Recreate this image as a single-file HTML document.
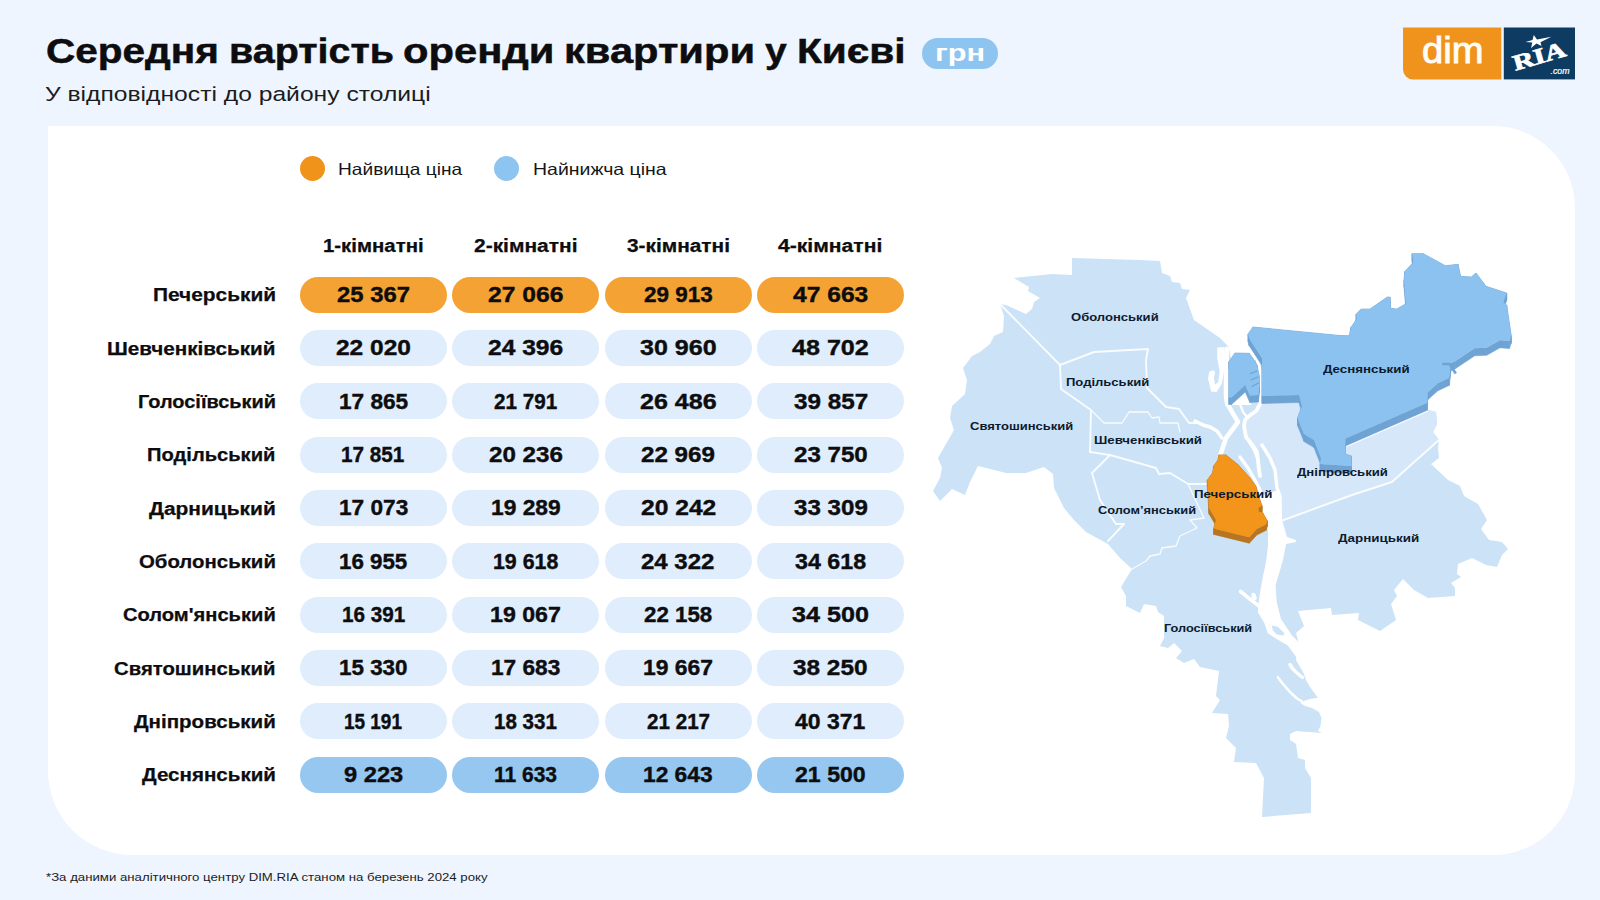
<!DOCTYPE html>
<html lang="uk"><head><meta charset="utf-8"><title>Середня вартість оренди квартири у Києві</title>
<style>
html,body{margin:0;padding:0}
body{width:1600px;height:900px;overflow:hidden;background:#eef5fe;font-family:"Liberation Sans",sans-serif;position:relative}
.card{position:absolute;left:48px;top:126.4px;width:1526.8px;height:728.8px;background:#fff;border-radius:0 82px 82px 84px}
.t{position:absolute;white-space:nowrap;line-height:1;transform-origin:0 0}
.p{position:absolute;width:147px;height:36px;border-radius:18px;background:#dfedfc}
.p.hi{background:#f4a233}
.p.lo{background:#95c7f0}
.badge{position:absolute;left:922px;top:37.5px;width:76px;height:31px;border-radius:15.5px;background:#8ec4f0}
.dot{position:absolute;width:25px;height:25px;border-radius:50%;top:155.5px}
svg{position:absolute;left:0;top:0}
</style></head><body>
<div class="card"></div>
<div class="badge"></div>
<div class="dot" style="left:300px;background:#f0931b"></div>
<div class="dot" style="left:494.3px;background:#8ec4f0"></div>
<div class="p hi" style="left:300.0px;top:276.7px"></div>
<div class="p hi" style="left:452.3px;top:276.7px"></div>
<div class="p hi" style="left:604.6px;top:276.7px"></div>
<div class="p hi" style="left:756.9px;top:276.7px"></div>
<div class="p" style="left:300.0px;top:330.0px"></div>
<div class="p" style="left:452.3px;top:330.0px"></div>
<div class="p" style="left:604.6px;top:330.0px"></div>
<div class="p" style="left:756.9px;top:330.0px"></div>
<div class="p" style="left:300.0px;top:383.4px"></div>
<div class="p" style="left:452.3px;top:383.4px"></div>
<div class="p" style="left:604.6px;top:383.4px"></div>
<div class="p" style="left:756.9px;top:383.4px"></div>
<div class="p" style="left:300.0px;top:436.7px"></div>
<div class="p" style="left:452.3px;top:436.7px"></div>
<div class="p" style="left:604.6px;top:436.7px"></div>
<div class="p" style="left:756.9px;top:436.7px"></div>
<div class="p" style="left:300.0px;top:490.0px"></div>
<div class="p" style="left:452.3px;top:490.0px"></div>
<div class="p" style="left:604.6px;top:490.0px"></div>
<div class="p" style="left:756.9px;top:490.0px"></div>
<div class="p" style="left:300.0px;top:543.3px"></div>
<div class="p" style="left:452.3px;top:543.3px"></div>
<div class="p" style="left:604.6px;top:543.3px"></div>
<div class="p" style="left:756.9px;top:543.3px"></div>
<div class="p" style="left:300.0px;top:596.7px"></div>
<div class="p" style="left:452.3px;top:596.7px"></div>
<div class="p" style="left:604.6px;top:596.7px"></div>
<div class="p" style="left:756.9px;top:596.7px"></div>
<div class="p" style="left:300.0px;top:650.0px"></div>
<div class="p" style="left:452.3px;top:650.0px"></div>
<div class="p" style="left:604.6px;top:650.0px"></div>
<div class="p" style="left:756.9px;top:650.0px"></div>
<div class="p" style="left:300.0px;top:703.3px"></div>
<div class="p" style="left:452.3px;top:703.3px"></div>
<div class="p" style="left:604.6px;top:703.3px"></div>
<div class="p" style="left:756.9px;top:703.3px"></div>
<div class="p lo" style="left:300.0px;top:756.7px"></div>
<div class="p lo" style="left:452.3px;top:756.7px"></div>
<div class="p lo" style="left:604.6px;top:756.7px"></div>
<div class="p lo" style="left:756.9px;top:756.7px"></div>
<svg width="1600" height="900" viewBox="0 0 1600 900">
<polygon points="1014,278 1052,274 1072,275 1072,258 1140,260 1160,261 1162,273 1170,276 1172,282 1180,283 1182,289 1190,290 1186,298 1194,320 1220,338 1229,347 1231,360 1262,360 1300,380 1400,400 1428,404 1428,410 1436,412 1437,424 1433,432 1439,440 1438,448 1439,458 1431,464 1448,480 1460,486 1464,496 1478,504 1487,520 1481,529 1489,540 1502,542 1508,549 1502,555 1497,567 1486,565 1472,558 1458,564 1457,574 1461,577 1451,583 1455,588 1455,596 1428,598 1414,590 1403,579 1394,590 1397,596 1391,604 1396,620 1380,631 1358,620 1359,613 1332,615 1331,608 1298,611 1304,626 1296,633 1298,640 1296,660 1304,674 1306,680 1310,687 1317.8,697.8 1311,698.8 1305,700.5 1300.5,703.2 1305,706 1312,708 1319,712 1321.5,718 1320.5,726 1318,731 1322,733 1296,731 1290,734 1290,740 1296,744 1298,758 1305,760 1305,768 1311,778 1311,813 1262,817 1264,778 1256,763 1234,762 1236,748 1226,738 1229,726 1228,714 1212,713 1220,700 1216,696 1219,671 1200,667 1194,659 1184,663 1176,658 1182,651 1174,643 1168,648 1160,646 1164,638 1164,616 1158,612 1156,606 1144,604 1140,613 1126,606 1126,596 1121,587 1132,569 1120,558 1108,544 1086,532 1074,520 1064,508 1054,488 1053,474 1044,467 1026,473 1006,473 978,466 970,482 965,495 952,489 940,501 933,491 940,478 942,468 938,458 954,430 950,418 952,406 965,394 967,380 963,368 972,356 980,352 990,344 994,336 1003,332 1004,316 1000,304 1006,305 1026,314 1032,309 1034,302 1040,298 1028,291 1029,287" fill="#cce2f7"/>
<polygon points="1262,396 1300,396 1428,404 1428,410 1436,412 1437,424 1433,432 1439,440 1412,464 1392,482 1352,495 1281,521 1281,500 1280,496 1277,488 1275,470 1270,458 1262,445 1257,452 1253,446 1246,437 1244,423 1246,416 1255,412 1259,403" fill="#d5e7f9"/>
<polygon points="1258,497 1258,520 1265,527 1268,530 1268,546 1266,562 1262.2,580 1259.4,596.7 1257.8,612.2 1264.4,623.3 1267.8,633.3 1276.7,638.9 1287.8,645.6 1296.7,657.8 1301,666 1303,650 1296.7,640 1292,635.6 1281,618.9 1276.7,602.2 1275.6,585 1283,560 1286,544 1296,542 1296,540 1287,537 1282,520 1281,500 1278,490" fill="#fff"/>
<polygon points="1271.7,625.6 1277.8,626.7 1284.4,633.3 1283.3,635.6 1276.7,634.4 1272.8,630" fill="#cce2f7"/>
<g fill="none" stroke="#fff" stroke-linejoin="round" stroke-linecap="round">
<polyline points="1000,304 1060,365" stroke-width="1.9" stroke-opacity=".88"/>
<polyline points="1060,365 1094,352 1148,349 1146,360 1147,388 1166,407 1179,409 1189,423 1197,423" stroke-width="1.9" stroke-opacity=".88"/>
<polyline points="1060,365 1061,389 1091,410 1090,452" stroke-width="1.9" stroke-opacity=".88"/>
<polyline points="1092,411 1104,423 1122,423 1129,412 1148,412 1152,418 1159,417 1160,423 1178,423 1180,432" stroke-width="1.3" stroke-opacity=".88"/>
<polyline points="1090,452 1110,455 1156,468 1159,474 1170,473 1188,484 1208,484" stroke-width="1.9" stroke-opacity=".88"/>
<polyline points="1110,455 1092,473 1100,500 1116,524 1124,524 1108,541" stroke-width="1.9" stroke-opacity=".88"/>
<polyline points="1188,484 1204,518 1190,520 1197,528 1180,536 1176,546 1162,548 1160,554 1150,556 1146,561 1132,569" stroke-width="1.3" stroke-opacity=".88"/>
<polyline points="1439,440 1412,464 1392,482 1352,495 1281,521" stroke-width="1.9" stroke-opacity=".88"/>
<polyline points="1227,349 1226.3,360 1226.2,396 1227.5,404" stroke-width="5"/>
<polyline points="1227.5,404 1232,412 1238,422 1232,430 1226,438 1222,450 1220,456" stroke-width="4.6"/>
<polyline points="1195,421 1203,425 1210,427 1217,431 1222,438" stroke-width="3.4"/>
<polyline points="1257.5,360 1260.5,375 1261,388 1260.5,403 1256.4,410.7 1249,416 1245,420 1244,426 1246,437 1253,446 1257,452 1259,470 1260,476" stroke-width="3.8"/>
<polyline points="1240,457 1248,468 1256,482 1260,490 1264,504" stroke-width="3.4"/>
<polyline points="1248,440 1254,450 1258,460 1260,475" stroke-width="2.6"/>
<polyline points="1262,445 1270,458 1275,470 1277,488 1280,496 1280,520" stroke-width="3.4"/>
<polyline points="1240.5,591.5 1250,599 1259,606" stroke-width="3.6"/>
<polyline points="1253.5,595 1254.5,598" stroke-width="4.5"/>
<polyline points="1290,664.5 1292.5,668.5 1297,673 1302.5,677.5" stroke-width="3.4"/>
<polyline points="1277.8,677.2 1283,684 1290,692 1297,698.5 1302,701.5" stroke-width="2.6"/>
</g>
<polygon points="1217.3,347.6 1224.5,347.1 1224.6,362.7 1223.6,373.3 1221.8,384 1216.4,392 1211.1,391.6 1208,378.7 1209.3,371.6 1213.8,370.2 1215.1,372.4 1213.8,377.8 1215.1,384.4 1218.2,382.2 1219.6,371.6 1217.3,358.2" fill="#fff"/>
<polygon points="1245.3,386 1230.5,405 1251.5,405" fill="#fff"/>
<polyline points="1240,404 1243,412 1247,417" fill="none" stroke="#fff" stroke-width="2.4"/>
<polygon points="1228.9,361.8 1235,353 1235,360 1228.9,368.8" fill="#6ea3d3" stroke="#6ea3d3" stroke-width=".6"/>
<polygon points="1235,353 1249.3,353.3 1249.3,360.3 1235,360" fill="#6ea3d3" stroke="#6ea3d3" stroke-width=".6"/>
<polygon points="1249.3,353.3 1254.7,361 1254.7,368 1249.3,360.3" fill="#6ea3d3" stroke="#6ea3d3" stroke-width=".6"/>
<polygon points="1254.7,361 1257,365 1257,372 1254.7,368" fill="#6ea3d3" stroke="#6ea3d3" stroke-width=".6"/>
<polygon points="1257,365 1259,375 1259,382 1257,372" fill="#6ea3d3" stroke="#6ea3d3" stroke-width=".6"/>
<polygon points="1259,375 1259.5,386 1259.5,393 1259,382" fill="#6ea3d3" stroke="#6ea3d3" stroke-width=".6"/>
<polygon points="1259.5,386 1258.3,395 1258.3,402 1259.5,393" fill="#6ea3d3" stroke="#6ea3d3" stroke-width=".6"/>
<polygon points="1258.3,395 1249.8,395.5 1249.8,402.5 1258.3,402" fill="#6ea3d3" stroke="#6ea3d3" stroke-width=".6"/>
<polygon points="1249.8,395.5 1245.3,385 1245.3,392 1249.8,402.5" fill="#6ea3d3" stroke="#6ea3d3" stroke-width=".6"/>
<polygon points="1245.3,385 1231.5,397.5 1231.5,404.5 1245.3,392" fill="#6ea3d3" stroke="#6ea3d3" stroke-width=".6"/>
<polygon points="1231.5,397.5 1228.9,397.5 1228.9,404.5 1231.5,404.5" fill="#6ea3d3" stroke="#6ea3d3" stroke-width=".6"/>
<polygon points="1228.9,397.5 1228.9,361.8 1228.9,368.8 1228.9,404.5" fill="#6ea3d3" stroke="#6ea3d3" stroke-width=".6"/>
<polygon points="1228.9,361.8 1235,353 1249.3,353.3 1254.7,361 1257,365 1259,375 1259.5,386 1258.3,395 1249.8,395.5 1245.3,385 1231.5,397.5 1228.9,397.5" fill="#8bc2ef"/>
<polygon points="1248,334 1253,327 1253,334.5 1248,341.5" fill="#6ea3d3" stroke="#6ea3d3" stroke-width=".6"/>
<polygon points="1253,327 1340,335.5 1340,343 1253,334.5" fill="#6ea3d3" stroke="#6ea3d3" stroke-width=".6"/>
<polygon points="1340,335.5 1349.3,335.7 1349.3,343.2 1340,343" fill="#6ea3d3" stroke="#6ea3d3" stroke-width=".6"/>
<polygon points="1349.3,335.7 1350.7,327.7 1350.7,335.2 1349.3,343.2" fill="#6ea3d3" stroke="#6ea3d3" stroke-width=".6"/>
<polygon points="1350.7,327.7 1356.7,319 1356.7,326.5 1350.7,335.2" fill="#6ea3d3" stroke="#6ea3d3" stroke-width=".6"/>
<polygon points="1356.7,319 1356,314.3 1356,321.8 1356.7,326.5" fill="#6ea3d3" stroke="#6ea3d3" stroke-width=".6"/>
<polygon points="1356,314.3 1361.3,309 1361.3,316.5 1356,321.8" fill="#6ea3d3" stroke="#6ea3d3" stroke-width=".6"/>
<polygon points="1361.3,309 1370,309 1370,316.5 1361.3,316.5" fill="#6ea3d3" stroke="#6ea3d3" stroke-width=".6"/>
<polygon points="1370,309 1387.3,297 1387.3,304.5 1370,316.5" fill="#6ea3d3" stroke="#6ea3d3" stroke-width=".6"/>
<polygon points="1387.3,297 1390,297 1390,304.5 1387.3,304.5" fill="#6ea3d3" stroke="#6ea3d3" stroke-width=".6"/>
<polygon points="1390,297 1390.7,308.3 1390.7,315.8 1390,304.5" fill="#6ea3d3" stroke="#6ea3d3" stroke-width=".6"/>
<polygon points="1390.7,308.3 1396.7,309 1396.7,316.5 1390.7,315.8" fill="#6ea3d3" stroke="#6ea3d3" stroke-width=".6"/>
<polygon points="1396.7,309 1406,303.7 1406,311.2 1396.7,316.5" fill="#6ea3d3" stroke="#6ea3d3" stroke-width=".6"/>
<polygon points="1406,303.7 1404,279.7 1404,287.2 1406,311.2" fill="#6ea3d3" stroke="#6ea3d3" stroke-width=".6"/>
<polygon points="1404,279.7 1404.7,271.7 1404.7,279.2 1404,287.2" fill="#6ea3d3" stroke="#6ea3d3" stroke-width=".6"/>
<polygon points="1404.7,271.7 1413.3,262.3 1413.3,269.8 1404.7,279.2" fill="#6ea3d3" stroke="#6ea3d3" stroke-width=".6"/>
<polygon points="1413.3,262.3 1412,253.7 1412,261.2 1413.3,269.8" fill="#6ea3d3" stroke="#6ea3d3" stroke-width=".6"/>
<polygon points="1412,253.7 1423.3,253.7 1423.3,261.2 1412,261.2" fill="#6ea3d3" stroke="#6ea3d3" stroke-width=".6"/>
<polygon points="1423.3,253.7 1445.3,265.7 1445.3,273.2 1423.3,261.2" fill="#6ea3d3" stroke="#6ea3d3" stroke-width=".6"/>
<polygon points="1445.3,265.7 1458,264.3 1458,271.8 1445.3,273.2" fill="#6ea3d3" stroke="#6ea3d3" stroke-width=".6"/>
<polygon points="1458,264.3 1460.7,276.3 1460.7,283.8 1458,271.8" fill="#6ea3d3" stroke="#6ea3d3" stroke-width=".6"/>
<polygon points="1460.7,276.3 1471.3,277 1471.3,284.5 1460.7,283.8" fill="#6ea3d3" stroke="#6ea3d3" stroke-width=".6"/>
<polygon points="1471.3,277 1476,273 1476,280.5 1471.3,284.5" fill="#6ea3d3" stroke="#6ea3d3" stroke-width=".6"/>
<polygon points="1476,273 1486,286.3 1486,293.8 1476,280.5" fill="#6ea3d3" stroke="#6ea3d3" stroke-width=".6"/>
<polygon points="1486,286.3 1506.7,293 1506.7,300.5 1486,293.8" fill="#6ea3d3" stroke="#6ea3d3" stroke-width=".6"/>
<polygon points="1506.7,293 1503.3,302.3 1503.3,309.8 1506.7,300.5" fill="#6ea3d3" stroke="#6ea3d3" stroke-width=".6"/>
<polygon points="1503.3,302.3 1506.7,305 1506.7,312.5 1503.3,309.8" fill="#6ea3d3" stroke="#6ea3d3" stroke-width=".6"/>
<polygon points="1506.7,305 1511.3,335.7 1511.3,343.2 1506.7,312.5" fill="#6ea3d3" stroke="#6ea3d3" stroke-width=".6"/>
<polygon points="1511.3,335.7 1509.3,341 1509.3,348.5 1511.3,343.2" fill="#6ea3d3" stroke="#6ea3d3" stroke-width=".6"/>
<polygon points="1509.3,341 1500,340.3 1500,347.8 1509.3,348.5" fill="#6ea3d3" stroke="#6ea3d3" stroke-width=".6"/>
<polygon points="1500,340.3 1486.7,347.7 1486.7,355.2 1500,347.8" fill="#6ea3d3" stroke="#6ea3d3" stroke-width=".6"/>
<polygon points="1486.7,347.7 1474.7,348.3 1474.7,355.8 1486.7,355.2" fill="#6ea3d3" stroke="#6ea3d3" stroke-width=".6"/>
<polygon points="1474.7,348.3 1455.6,361 1455.6,368.5 1474.7,355.8" fill="#6ea3d3" stroke="#6ea3d3" stroke-width=".6"/>
<polygon points="1455.6,361 1451,363 1451,370.5 1455.6,368.5" fill="#6ea3d3" stroke="#6ea3d3" stroke-width=".6"/>
<polygon points="1451,363 1450,371 1450,378.5 1451,370.5" fill="#6ea3d3" stroke="#6ea3d3" stroke-width=".6"/>
<polygon points="1450,371 1449.4,377.8 1449.4,385.3 1450,378.5" fill="#6ea3d3" stroke="#6ea3d3" stroke-width=".6"/>
<polygon points="1449.4,377.8 1437.8,383.3 1437.8,390.8 1449.4,385.3" fill="#6ea3d3" stroke="#6ea3d3" stroke-width=".6"/>
<polygon points="1437.8,383.3 1427.8,392.2 1427.8,399.7 1437.8,390.8" fill="#6ea3d3" stroke="#6ea3d3" stroke-width=".6"/>
<polygon points="1427.8,392.2 1427.2,402.8 1427.2,410.3 1427.8,399.7" fill="#6ea3d3" stroke="#6ea3d3" stroke-width=".6"/>
<polygon points="1427.2,402.8 1345.5,438.5 1345.5,446 1427.2,410.3" fill="#6ea3d3" stroke="#6ea3d3" stroke-width=".6"/>
<polygon points="1345.5,438.5 1345,454 1345,461.5 1345.5,446" fill="#6ea3d3" stroke="#6ea3d3" stroke-width=".6"/>
<polygon points="1345,454 1351.5,456 1351.5,463.5 1345,461.5" fill="#6ea3d3" stroke="#6ea3d3" stroke-width=".6"/>
<polygon points="1351.5,456 1351.5,466 1351.5,473.5 1351.5,463.5" fill="#6ea3d3" stroke="#6ea3d3" stroke-width=".6"/>
<polygon points="1351.5,466 1320,464 1320,471.5 1351.5,473.5" fill="#6ea3d3" stroke="#6ea3d3" stroke-width=".6"/>
<polygon points="1320,464 1321,458 1321,465.5 1320,471.5" fill="#6ea3d3" stroke="#6ea3d3" stroke-width=".6"/>
<polygon points="1321,458 1314,440 1314,447.5 1321,465.5" fill="#6ea3d3" stroke="#6ea3d3" stroke-width=".6"/>
<polygon points="1314,440 1304,434 1304,441.5 1314,447.5" fill="#6ea3d3" stroke="#6ea3d3" stroke-width=".6"/>
<polygon points="1304,434 1297.5,418 1297.5,425.5 1304,441.5" fill="#6ea3d3" stroke="#6ea3d3" stroke-width=".6"/>
<polygon points="1297.5,418 1302,406 1302,413.5 1297.5,425.5" fill="#6ea3d3" stroke="#6ea3d3" stroke-width=".6"/>
<polygon points="1302,406 1299,395 1299,402.5 1302,413.5" fill="#6ea3d3" stroke="#6ea3d3" stroke-width=".6"/>
<polygon points="1299,395 1262,396 1262,403.5 1299,402.5" fill="#6ea3d3" stroke="#6ea3d3" stroke-width=".6"/>
<polygon points="1262,396 1262,358 1262,365.5 1262,403.5" fill="#6ea3d3" stroke="#6ea3d3" stroke-width=".6"/>
<polygon points="1262,358 1249,338 1249,345.5 1262,365.5" fill="#6ea3d3" stroke="#6ea3d3" stroke-width=".6"/>
<polygon points="1249,338 1248,334 1248,341.5 1249,345.5" fill="#6ea3d3" stroke="#6ea3d3" stroke-width=".6"/>
<polygon points="1248,334 1253,327 1340,335.5 1349.3,335.7 1350.7,327.7 1356.7,319 1356,314.3 1361.3,309 1370,309 1387.3,297 1390,297 1390.7,308.3 1396.7,309 1406,303.7 1404,279.7 1404.7,271.7 1413.3,262.3 1412,253.7 1423.3,253.7 1445.3,265.7 1458,264.3 1460.7,276.3 1471.3,277 1476,273 1486,286.3 1506.7,293 1503.3,302.3 1506.7,305 1511.3,335.7 1509.3,341 1500,340.3 1486.7,347.7 1474.7,348.3 1455.6,361 1451,363 1450,371 1449.4,377.8 1437.8,383.3 1427.8,392.2 1427.2,402.8 1345.5,438.5 1345,454 1351.5,456 1351.5,466 1320,464 1321,458 1314,440 1304,434 1297.5,418 1302,406 1299,395 1262,396 1262,358 1249,338" fill="#8bc2ef"/>
<polyline points="1428.2,410.9 1346.5,446.6" fill="none" stroke="#fff" stroke-width="1.1" stroke-opacity=".85"/>
<polyline points="1442.3,364 1449.5,364 1455.8,373.5" fill="none" stroke="#6ea3d3" stroke-width="2.6" stroke-linejoin="miter"/>
<g fill="none" stroke="#6ea3d3" stroke-width="1.3" stroke-linecap="round"><path d="M1257,371 L1250.5,373.5 M1258,377 L1251,380 M1258.5,383 L1252,386.5"/></g>
<polygon points="1218.9,454.9 1225.9,454.9 1225.9,460.9 1218.9,460.9" fill="#b8741f" stroke="#b8741f" stroke-width=".6"/>
<polygon points="1225.9,454.9 1238.2,464.8 1238.2,470.8 1225.9,460.9" fill="#b8741f" stroke="#b8741f" stroke-width=".6"/>
<polygon points="1238.2,464.8 1249.8,477.7 1249.8,483.7 1238.2,470.8" fill="#b8741f" stroke="#b8741f" stroke-width=".6"/>
<polygon points="1249.8,477.7 1255.7,485.8 1255.7,491.8 1249.8,483.7" fill="#b8741f" stroke="#b8741f" stroke-width=".6"/>
<polygon points="1255.7,485.8 1260.3,501 1260.3,507 1255.7,491.8" fill="#b8741f" stroke="#b8741f" stroke-width=".6"/>
<polygon points="1260.3,501 1262.1,505.7 1262.1,511.7 1260.3,507" fill="#b8741f" stroke="#b8741f" stroke-width=".6"/>
<polygon points="1262.1,505.7 1258.6,507.4 1258.6,513.4 1262.1,511.7" fill="#b8741f" stroke="#b8741f" stroke-width=".6"/>
<polygon points="1258.6,507.4 1258.6,511.5 1258.6,517.5 1258.6,513.4" fill="#b8741f" stroke="#b8741f" stroke-width=".6"/>
<polygon points="1258.6,511.5 1262.7,512.7 1262.7,518.7 1258.6,517.5" fill="#b8741f" stroke="#b8741f" stroke-width=".6"/>
<polygon points="1262.7,512.7 1267.3,520.8 1267.3,526.8 1262.7,518.7" fill="#b8741f" stroke="#b8741f" stroke-width=".6"/>
<polygon points="1267.3,520.8 1266.2,524.3 1266.2,530.3 1267.3,526.8" fill="#b8741f" stroke="#b8741f" stroke-width=".6"/>
<polygon points="1266.2,524.3 1256.8,529 1256.8,535 1266.2,530.3" fill="#b8741f" stroke="#b8741f" stroke-width=".6"/>
<polygon points="1256.8,529 1249.3,537.2 1249.3,543.2 1256.8,535" fill="#b8741f" stroke="#b8741f" stroke-width=".6"/>
<polygon points="1249.3,537.2 1213.7,528.4 1213.7,534.4 1249.3,543.2" fill="#b8741f" stroke="#b8741f" stroke-width=".6"/>
<polygon points="1213.7,528.4 1216,519.7 1216,525.7 1213.7,534.4" fill="#b8741f" stroke="#b8741f" stroke-width=".6"/>
<polygon points="1216,519.7 1209,508 1209,514 1216,525.7" fill="#b8741f" stroke="#b8741f" stroke-width=".6"/>
<polygon points="1209,508 1207.3,480 1207.3,486 1209,514" fill="#b8741f" stroke="#b8741f" stroke-width=".6"/>
<polygon points="1207.3,480 1212.5,473 1212.5,479 1207.3,486" fill="#b8741f" stroke="#b8741f" stroke-width=".6"/>
<polygon points="1212.5,473 1213.7,466 1213.7,472 1212.5,479" fill="#b8741f" stroke="#b8741f" stroke-width=".6"/>
<polygon points="1213.7,466 1217.8,460.2 1217.8,466.2 1213.7,472" fill="#b8741f" stroke="#b8741f" stroke-width=".6"/>
<polygon points="1217.8,460.2 1218.9,454.9 1218.9,460.9 1217.8,466.2" fill="#b8741f" stroke="#b8741f" stroke-width=".6"/>
<polygon points="1218.9,454.9 1225.9,454.9 1238.2,464.8 1249.8,477.7 1255.7,485.8 1260.3,501 1262.1,505.7 1258.6,507.4 1258.6,511.5 1262.7,512.7 1267.3,520.8 1266.2,524.3 1256.8,529 1249.3,537.2 1213.7,528.4 1216,519.7 1209,508 1207.3,480 1212.5,473 1213.7,466 1217.8,460.2" fill="#f2951a"/>
</svg>
<svg width="1600" height="900" viewBox="0 0 1600 900">
<path d="M1403,27.5 H1501.3 V79.4 H1413 A10,10 0 0 1 1403,69.4 Z" fill="#f0931c"/>
<rect x="1503.8" y="27.5" width="71.2" height="51.9" fill="#0e3b62"/>
<text x="1422" y="63" font-family="Liberation Sans, sans-serif" font-size="36" fill="#fffdf5" stroke="#fffdf5" stroke-width=".9" textLength="61.5" lengthAdjust="spacingAndGlyphs">dim</text>
<g transform="translate(1541.2,63.2) rotate(-16)">
<text x="-27" y="0" font-family="Liberation Serif, serif" font-weight="700" font-size="22" fill="#fff" stroke="#fff" stroke-width=".7" textLength="54" lengthAdjust="spacingAndGlyphs">RIA</text>
</g>
<polygon points="1533.8,35 1537,39.6 1551.3,36.8 1540.5,42.3 1541.5,46 1536.5,43.6 1531,48 1532.3,42.6 1525.5,42 1532.5,40" fill="#fff"/>
<text x="1550.5" y="74.4" font-family="Liberation Sans, sans-serif" font-style="italic" font-size="8.5" fill="#fff" stroke="#fff" stroke-width=".2" textLength="19" lengthAdjust="spacingAndGlyphs">.com</text>
</svg>

<div class="t" style="left:45.73px;top:32.91px;font-size:35.3px;font-weight:700;color:#0d0d0f;transform:scaleX(1.1478);-webkit-text-stroke:0.5px #0d0d0f">Середня</div>
<div class="t" style="left:228.73px;top:32.91px;font-size:35.3px;font-weight:700;color:#0d0d0f;transform:scaleX(1.1173);-webkit-text-stroke:0.5px #0d0d0f">вартість</div>
<div class="t" style="left:402.70px;top:32.91px;font-size:35.3px;font-weight:700;color:#0d0d0f;transform:scaleX(1.1814);-webkit-text-stroke:0.5px #0d0d0f">оренди</div>
<div class="t" style="left:563.60px;top:32.91px;font-size:35.3px;font-weight:700;color:#0d0d0f;transform:scaleX(1.1800);-webkit-text-stroke:0.5px #0d0d0f">квартири</div>
<div class="t" style="left:765.00px;top:32.91px;font-size:35.3px;font-weight:700;color:#0d0d0f;transform:scaleX(1.1080);-webkit-text-stroke:0.5px #0d0d0f">у</div>
<div class="t" style="left:797.46px;top:32.91px;font-size:35.3px;font-weight:700;color:#0d0d0f;transform:scaleX(1.1528);-webkit-text-stroke:0.5px #0d0d0f">Києві</div>
<div class="t" style="left:45.00px;top:83.64px;font-size:20.5px;font-weight:400;color:#1c1c1e;transform:scaleX(1.2025)">У відповідності до району столиці</div>
<div class="t" style="left:934.95px;top:40.68px;font-size:24px;font-weight:700;color:#ffffff;transform:scaleX(1.2793)">грн</div>
<div class="t" style="left:338.49px;top:161.03px;font-size:16.5px;font-weight:400;color:#151517;transform:scaleX(1.1593)">Найвища ціна</div>
<div class="t" style="left:532.77px;top:161.03px;font-size:16.5px;font-weight:400;color:#151517;transform:scaleX(1.1797)">Найнижча ціна</div>
<div class="t" style="left:46.19px;top:872.01px;font-size:11.8px;font-weight:400;color:#1c1c1e;transform:scaleX(1.1195)">*За даними аналітичного центру DIM.RIA станом на березень 2024 року</div>
<div class="t" style="left:323.26px;top:236.76px;font-size:18px;font-weight:700;color:#0d0d0f;transform:scaleX(1.1316);-webkit-text-stroke:0.25px #0d0d0f">1-кімнатні</div>
<div class="t" style="left:474.40px;top:236.76px;font-size:18px;font-weight:700;color:#0d0d0f;transform:scaleX(1.1642);-webkit-text-stroke:0.25px #0d0d0f">2-кімнатні</div>
<div class="t" style="left:626.99px;top:236.76px;font-size:18px;font-weight:700;color:#0d0d0f;transform:scaleX(1.1581);-webkit-text-stroke:0.25px #0d0d0f">3-кімнатні</div>
<div class="t" style="left:778.37px;top:236.76px;font-size:18px;font-weight:700;color:#0d0d0f;transform:scaleX(1.1726);-webkit-text-stroke:0.25px #0d0d0f">4-кімнатні</div>
<div class="t" style="left:152.81px;top:286.26px;font-size:18px;font-weight:700;color:#0d0d0f;transform:scaleX(1.1589);-webkit-text-stroke:0.25px #0d0d0f">Печерський</div>
<div class="t" style="left:337.18px;top:283.97px;font-size:22px;font-weight:700;color:#0d0d0f;transform:scaleX(1.0834);-webkit-text-stroke:0.4px #0d0d0f">25 367</div>
<div class="t" style="left:488.15px;top:283.97px;font-size:22px;font-weight:700;color:#0d0d0f;transform:scaleX(1.1195);-webkit-text-stroke:0.4px #0d0d0f">27 066</div>
<div class="t" style="left:643.78px;top:283.97px;font-size:22px;font-weight:700;color:#0d0d0f;transform:scaleX(1.0206);-webkit-text-stroke:0.4px #0d0d0f">29 913</div>
<div class="t" style="left:793.03px;top:283.97px;font-size:22px;font-weight:700;color:#0d0d0f;transform:scaleX(1.1181);-webkit-text-stroke:0.4px #0d0d0f">47 663</div>
<div class="t" style="left:107.42px;top:339.59px;font-size:18px;font-weight:700;color:#0d0d0f;transform:scaleX(1.1484);-webkit-text-stroke:0.25px #0d0d0f">Шевченківський</div>
<div class="t" style="left:336.11px;top:337.30px;font-size:22px;font-weight:700;color:#0d0d0f;transform:scaleX(1.1135);-webkit-text-stroke:0.4px #0d0d0f">22 020</div>
<div class="t" style="left:488.22px;top:337.30px;font-size:22px;font-weight:700;color:#0d0d0f;transform:scaleX(1.1175);-webkit-text-stroke:0.4px #0d0d0f">24 396</div>
<div class="t" style="left:639.98px;top:337.30px;font-size:22px;font-weight:700;color:#0d0d0f;transform:scaleX(1.1388);-webkit-text-stroke:0.4px #0d0d0f">30 960</div>
<div class="t" style="left:792.33px;top:337.30px;font-size:22px;font-weight:700;color:#0d0d0f;transform:scaleX(1.1407);-webkit-text-stroke:0.4px #0d0d0f">48 702</div>
<div class="t" style="left:137.77px;top:392.92px;font-size:18px;font-weight:700;color:#0d0d0f;transform:scaleX(1.1066);-webkit-text-stroke:0.25px #0d0d0f">Голосіївський</div>
<div class="t" style="left:338.52px;top:390.63px;font-size:22px;font-weight:700;color:#0d0d0f;transform:scaleX(1.0281);-webkit-text-stroke:0.4px #0d0d0f">17 865</div>
<div class="t" style="left:494.15px;top:390.63px;font-size:22px;font-weight:700;color:#0d0d0f;transform:scaleX(0.9384);-webkit-text-stroke:0.4px #0d0d0f">21 791</div>
<div class="t" style="left:639.80px;top:390.63px;font-size:22px;font-weight:700;color:#0d0d0f;transform:scaleX(1.1389);-webkit-text-stroke:0.4px #0d0d0f">26 486</div>
<div class="t" style="left:793.56px;top:390.63px;font-size:22px;font-weight:700;color:#0d0d0f;transform:scaleX(1.1021);-webkit-text-stroke:0.4px #0d0d0f">39 857</div>
<div class="t" style="left:147.36px;top:446.25px;font-size:18px;font-weight:700;color:#0d0d0f;transform:scaleX(1.1185);-webkit-text-stroke:0.25px #0d0d0f">Подільський</div>
<div class="t" style="left:341.47px;top:443.96px;font-size:22px;font-weight:700;color:#0d0d0f;transform:scaleX(0.9414);-webkit-text-stroke:0.4px #0d0d0f">17 851</div>
<div class="t" style="left:488.85px;top:443.96px;font-size:22px;font-weight:700;color:#0d0d0f;transform:scaleX(1.0988);-webkit-text-stroke:0.4px #0d0d0f">20 236</div>
<div class="t" style="left:641.16px;top:443.96px;font-size:22px;font-weight:700;color:#0d0d0f;transform:scaleX(1.0985);-webkit-text-stroke:0.4px #0d0d0f">22 969</div>
<div class="t" style="left:793.62px;top:443.96px;font-size:22px;font-weight:700;color:#0d0d0f;transform:scaleX(1.0955);-webkit-text-stroke:0.4px #0d0d0f">23 750</div>
<div class="t" style="left:149.08px;top:499.58px;font-size:18px;font-weight:700;color:#0d0d0f;transform:scaleX(1.1626);-webkit-text-stroke:0.25px #0d0d0f">Дарницький</div>
<div class="t" style="left:338.58px;top:497.29px;font-size:22px;font-weight:700;color:#0d0d0f;transform:scaleX(1.0292);-webkit-text-stroke:0.4px #0d0d0f">17 073</div>
<div class="t" style="left:490.64px;top:497.29px;font-size:22px;font-weight:700;color:#0d0d0f;transform:scaleX(1.0363);-webkit-text-stroke:0.4px #0d0d0f">19 289</div>
<div class="t" style="left:640.55px;top:497.29px;font-size:22px;font-weight:700;color:#0d0d0f;transform:scaleX(1.1182);-webkit-text-stroke:0.4px #0d0d0f">20 242</div>
<div class="t" style="left:793.63px;top:497.29px;font-size:22px;font-weight:700;color:#0d0d0f;transform:scaleX(1.0968);-webkit-text-stroke:0.4px #0d0d0f">33 309</div>
<div class="t" style="left:138.91px;top:552.91px;font-size:18px;font-weight:700;color:#0d0d0f;transform:scaleX(1.1320);-webkit-text-stroke:0.25px #0d0d0f">Оболонський</div>
<div class="t" style="left:338.99px;top:550.62px;font-size:22px;font-weight:700;color:#0d0d0f;transform:scaleX(1.0143);-webkit-text-stroke:0.4px #0d0d0f">16 955</div>
<div class="t" style="left:492.85px;top:550.62px;font-size:22px;font-weight:700;color:#0d0d0f;transform:scaleX(0.9697);-webkit-text-stroke:0.4px #0d0d0f">19 618</div>
<div class="t" style="left:641.46px;top:550.62px;font-size:22px;font-weight:700;color:#0d0d0f;transform:scaleX(1.0911);-webkit-text-stroke:0.4px #0d0d0f">24 322</div>
<div class="t" style="left:794.93px;top:550.62px;font-size:22px;font-weight:700;color:#0d0d0f;transform:scaleX(1.0562);-webkit-text-stroke:0.4px #0d0d0f">34 618</div>
<div class="t" style="left:123.02px;top:606.24px;font-size:18px;font-weight:700;color:#0d0d0f;transform:scaleX(1.1178);-webkit-text-stroke:0.25px #0d0d0f">Солом'янський</div>
<div class="t" style="left:341.55px;top:603.95px;font-size:22px;font-weight:700;color:#0d0d0f;transform:scaleX(0.9391);-webkit-text-stroke:0.4px #0d0d0f">16 391</div>
<div class="t" style="left:490.19px;top:603.95px;font-size:22px;font-weight:700;color:#0d0d0f;transform:scaleX(1.0526);-webkit-text-stroke:0.4px #0d0d0f">19 067</div>
<div class="t" style="left:643.95px;top:603.95px;font-size:22px;font-weight:700;color:#0d0d0f;transform:scaleX(1.0141);-webkit-text-stroke:0.4px #0d0d0f">22 158</div>
<div class="t" style="left:792.07px;top:603.95px;font-size:22px;font-weight:700;color:#0d0d0f;transform:scaleX(1.1448);-webkit-text-stroke:0.4px #0d0d0f">34 500</div>
<div class="t" style="left:114.31px;top:659.57px;font-size:18px;font-weight:700;color:#0d0d0f;transform:scaleX(1.1289);-webkit-text-stroke:0.25px #0d0d0f">Святошинський</div>
<div class="t" style="left:339.00px;top:657.28px;font-size:22px;font-weight:700;color:#0d0d0f;transform:scaleX(1.0183);-webkit-text-stroke:0.4px #0d0d0f">15 330</div>
<div class="t" style="left:490.85px;top:657.28px;font-size:22px;font-weight:700;color:#0d0d0f;transform:scaleX(1.0302);-webkit-text-stroke:0.4px #0d0d0f">17 683</div>
<div class="t" style="left:642.96px;top:657.28px;font-size:22px;font-weight:700;color:#0d0d0f;transform:scaleX(1.0388);-webkit-text-stroke:0.4px #0d0d0f">19 667</div>
<div class="t" style="left:793.35px;top:657.28px;font-size:22px;font-weight:700;color:#0d0d0f;transform:scaleX(1.1068);-webkit-text-stroke:0.4px #0d0d0f">38 250</div>
<div class="t" style="left:134.09px;top:712.90px;font-size:18px;font-weight:700;color:#0d0d0f;transform:scaleX(1.1395);-webkit-text-stroke:0.25px #0d0d0f">Дніпровський</div>
<div class="t" style="left:344.20px;top:710.61px;font-size:22px;font-weight:700;color:#0d0d0f;transform:scaleX(0.8611);-webkit-text-stroke:0.4px #0d0d0f">15 191</div>
<div class="t" style="left:494.03px;top:710.61px;font-size:22px;font-weight:700;color:#0d0d0f;transform:scaleX(0.9337);-webkit-text-stroke:0.4px #0d0d0f">18 331</div>
<div class="t" style="left:646.66px;top:710.61px;font-size:22px;font-weight:700;color:#0d0d0f;transform:scaleX(0.9376);-webkit-text-stroke:0.4px #0d0d0f">21 217</div>
<div class="t" style="left:795.43px;top:710.61px;font-size:22px;font-weight:700;color:#0d0d0f;transform:scaleX(1.0430);-webkit-text-stroke:0.4px #0d0d0f">40 371</div>
<div class="t" style="left:141.89px;top:766.23px;font-size:18px;font-weight:700;color:#0d0d0f;transform:scaleX(1.1420);-webkit-text-stroke:0.25px #0d0d0f">Деснянський</div>
<div class="t" style="left:343.92px;top:763.94px;font-size:22px;font-weight:700;color:#0d0d0f;transform:scaleX(1.0755);-webkit-text-stroke:0.4px #0d0d0f">9 223</div>
<div class="t" style="left:494.02px;top:763.94px;font-size:22px;font-weight:700;color:#0d0d0f;transform:scaleX(0.9539);-webkit-text-stroke:0.4px #0d0d0f">11 633</div>
<div class="t" style="left:643.05px;top:763.94px;font-size:22px;font-weight:700;color:#0d0d0f;transform:scaleX(1.0332);-webkit-text-stroke:0.4px #0d0d0f">12 643</div>
<div class="t" style="left:795.12px;top:763.94px;font-size:22px;font-weight:700;color:#0d0d0f;transform:scaleX(1.0506);-webkit-text-stroke:0.4px #0d0d0f">21 500</div>
<div class="t" style="left:1070.76px;top:311.61px;font-size:11.8px;font-weight:700;color:#0c1a2e;transform:scaleX(1.1058)">Оболонський</div>
<div class="t" style="left:1066.43px;top:377.41px;font-size:11.8px;font-weight:700;color:#0c1a2e;transform:scaleX(1.1053)">Подільський</div>
<div class="t" style="left:969.56px;top:420.61px;font-size:11.8px;font-weight:700;color:#0c1a2e;transform:scaleX(1.1012)">Святошинський</div>
<div class="t" style="left:1094.01px;top:434.61px;font-size:11.8px;font-weight:700;color:#0c1a2e;transform:scaleX(1.1237)">Шевченківський</div>
<div class="t" style="left:1323.09px;top:363.81px;font-size:11.8px;font-weight:700;color:#0c1a2e;transform:scaleX(1.1258)">Деснянський</div>
<div class="t" style="left:1296.69px;top:467.01px;font-size:11.8px;font-weight:700;color:#0c1a2e;transform:scaleX(1.1154)">Дніпровський</div>
<div class="t" style="left:1194.41px;top:489.01px;font-size:11.8px;font-weight:700;color:#0c1a2e;transform:scaleX(1.1270)">Печерський</div>
<div class="t" style="left:1097.56px;top:504.61px;font-size:11.8px;font-weight:700;color:#0c1a2e;transform:scaleX(1.0886)">Солом’янський</div>
<div class="t" style="left:1338.29px;top:533.01px;font-size:11.8px;font-weight:700;color:#0c1a2e;transform:scaleX(1.1384)">Дарницький</div>
<div class="t" style="left:1163.65px;top:622.61px;font-size:11.8px;font-weight:700;color:#0c1a2e;transform:scaleX(1.0784)">Голосіївський</div>
</body></html>
